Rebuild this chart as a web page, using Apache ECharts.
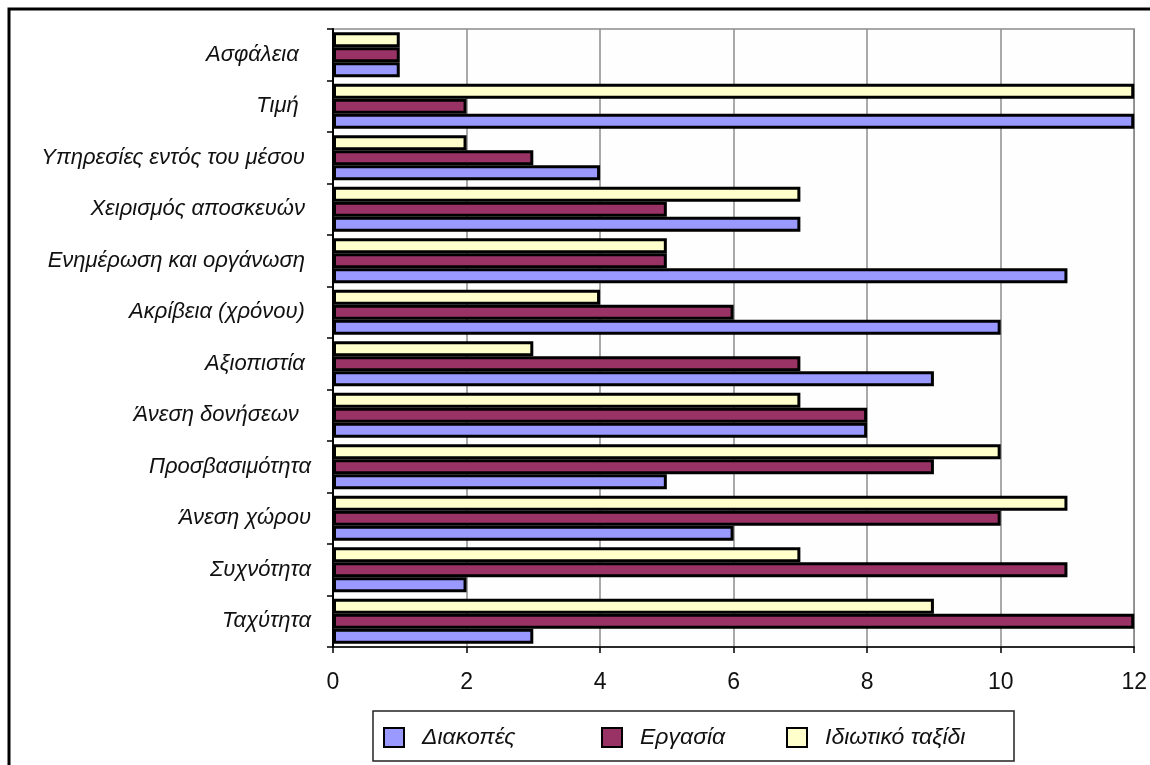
<!DOCTYPE html>
<html>
<head>
<meta charset="utf-8">
<script src="https://cdn.jsdelivr.net/npm/echarts@6/dist/echarts.min.js"></script>
<style>
  html, body { margin: 0; padding: 0; background: #ffffff; }
  #chart { width: 1150px; height: 765px; }
</style>
</head>
<body>
<div id="chart"></div>
<script>
// Categories listed from the bottom of the axis upward
const categories = [
  'Ταχύτητα',
  'Συχνότητα',
  'Άνεση χώρου',
  'Προσβασιμότητα',
  'Άνεση δονήσεων  ',
  'Αξιοπιστία ',
  'Ακρίβεια (χρόνου) ',
  'Ενημέρωση και οργάνωση ',
  'Χειρισμός αποσκευών ',
  'Υπηρεσίες εντός του μέσου ',
  'Τιμή  ',
  'Ασφάλεια  '
];

const seriesNames = ['Διακοπές', 'Εργασία', 'Ιδιωτικό ταξίδι'];

const vacation = [3, 2, 6, 5, 8, 9, 10, 11, 7, 4, 12, 1];
const business = [12, 11, 10, 9, 8, 7, 6, 5, 5, 3, 2, 1];
const privateTrip = [9, 7, 11, 10, 7, 3, 4, 5, 7, 2, 12, 1];

const xTicks = [0, 2, 4, 6, 8, 10, 12];

const colors = ['#9999ff', '#993366', '#ffffcc'];

const chart = echarts.init(document.getElementById('chart'), null, { renderer: 'canvas' });

function barSeries(name, data, color) {
  return {
    name: name,
    type: 'bar',
    data: data,
    barGap: '0%',
    barCategoryGap: '13%',
    itemStyle: { color: color, borderColor: '#000000', borderWidth: 3 },
    emphasis: { disabled: true }
  };
}

const legendFont = { fontFamily: 'Liberation Sans', fontStyle: 'italic', fontSize: 23, color: '#111', padding: [0, 0, 0, 13] };
function legendFor(name, left) {
  return {
    data: [name],
    left: left,
    top: 726,
    padding: 0,
    itemWidth: 20,
    itemHeight: 19,
    icon: 'rect',
    selectedMode: false,
    textStyle: legendFont
  };
}

chart.setOption({
  backgroundColor: '#ffffff',
  animation: false,
  grid: { left: 333, right: 15, top: 29, bottom: 118, show: true, borderColor: '#8c8c8c', borderWidth: 1.5, backgroundColor: '#fefefe' },
  xAxis: {
    type: 'value',
    min: xTicks[0],
    max: xTicks[xTicks.length - 1],
    interval: 2,
    axisLine: { show: true, lineStyle: { color: '#000', width: 1.5 } },
    axisTick: { show: true, length: 6, lineStyle: { color: '#000', width: 1.5 } },
    splitLine: { show: true, lineStyle: { color: '#8c8c8c', width: 1.5 } },
    axisLabel: { fontFamily: 'Liberation Sans', fontSize: 23, color: '#111', margin: 24 }
  },
  yAxis: {
    type: 'category',
    data: categories,
    axisLine: { show: true, onZero: false, lineStyle: { color: '#000', width: 2 } },
    axisTick: { show: true, length: 6, lineStyle: { color: '#000', width: 1.5 } },
    splitLine: { show: false },
    axisLabel: { fontFamily: 'Liberation Sans', fontStyle: 'italic', fontSize: 22, color: '#111', margin: 22 }
  },
  legend: [
    legendFor(seriesNames[0], 383),
    legendFor(seriesNames[1], 601),
    legendFor(seriesNames[2], 786)
  ],
  series: [
    barSeries(seriesNames[2], privateTrip, colors[2]),
    barSeries(seriesNames[1], business, colors[1]),
    barSeries(seriesNames[0], vacation, colors[0])
  ],
  graphic: [
    {
      type: 'rect',
      shape: { x: 9, y: 9, width: 1200, height: 800 },
      style: { fill: null, stroke: '#000', lineWidth: 3 },
      silent: true, z: 100
    },
    {
      type: 'rect',
      shape: { x: 373, y: 711, width: 641, height: 50 },
      style: { fill: null, stroke: '#222', lineWidth: 1.5 },
      silent: true, z: 100
    }
  ]
});
</script>
</body>
</html>
